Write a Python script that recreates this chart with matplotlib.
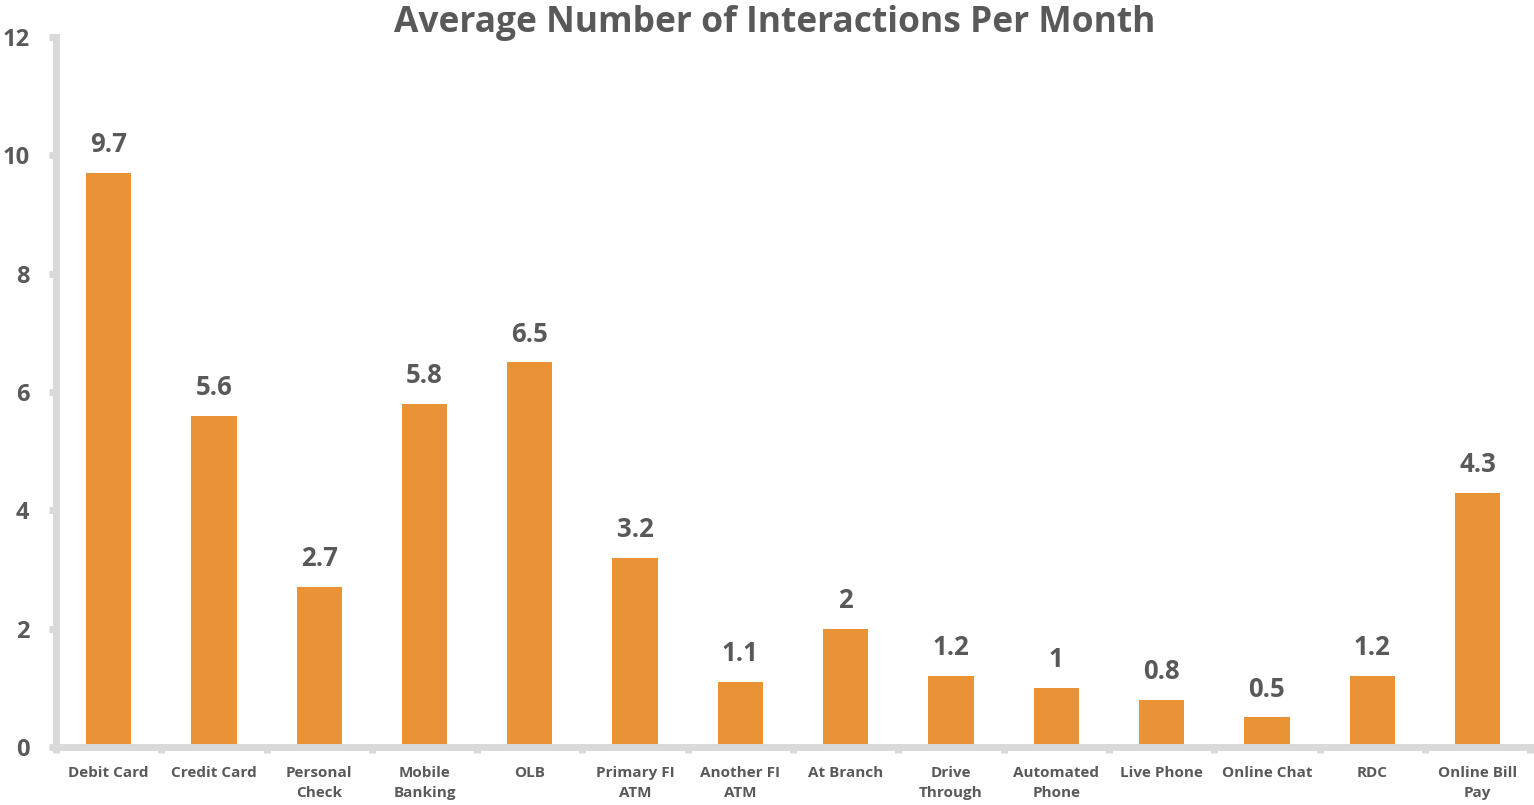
import matplotlib.pyplot as plt
import numpy as np

# data
categories = ['Debit Card', 'Credit Card', 'Personal\nCheck', 'Mobile\nBanking', 'OLB',
              'Primary FI\nATM', 'Another FI\nATM', 'At Branch', 'Drive\nThrough',
              'Automated\nPhone', 'Live Phone', 'Online Chat', 'RDC', 'Online Bill\nPay']
values = [9.7, 5.6, 2.7, 5.8, 6.5, 3.2, 1.1, 2, 1.2, 1, 0.8, 0.5, 1.2, 4.3]
value_labels = ['9.7', '5.6', '2.7', '5.8', '6.5', '3.2', '1.1', '2', '1.2', '1', '0.8', '0.5', '1.2', '4.3']
yticks = [0, 2, 4, 6, 8, 10, 12]

plt.rcParams['font.family'] = ['Open Sans', 'DejaVu Sans']
txt_color = '#595959'
bar_color = '#EA9236'
axis_color = '#D9D9D9'

fig = plt.figure(figsize=(15.34, 8.05), dpi=100)
ax = fig.add_axes([0.0365, 0.072, 0.961, 0.882])

x = np.arange(len(categories))
ax.bar(x, values, width=0.43, color=bar_color, zorder=2)

for xi, v, lab in zip(x, values, value_labels):
    ax.text(xi, v + 0.25, lab, ha='center', va='bottom', fontsize=18.5,
            fontweight='bold', color=txt_color)

ax.set_xlim(-0.5, len(categories) - 0.5)
ax.set_ylim(0, 12)
ax.set_yticks(yticks)
ax.set_yticklabels([str(t) for t in yticks], fontsize=17, fontweight='bold', color=txt_color)
ax.set_xticks(x)
ax.set_xticklabels(categories, fontsize=11, fontweight='bold', color=txt_color, linespacing=1.5)
ax.tick_params(axis='x', length=0, pad=14)
ax.tick_params(axis='y', length=5, width=5, color=axis_color, pad=14)

# small tick marks between categories on x axis
ax.set_xticks(np.arange(-0.5, len(categories)), minor=True)
ax.tick_params(axis='x', which='minor', length=4, width=5, color=axis_color)

for s in ['top', 'right']:
    ax.spines[s].set_visible(False)
for s in ['left', 'bottom']:
    ax.spines[s].set_color(axis_color)
    ax.spines[s].set_linewidth(5)

fig.text(0.505, 0.971, 'Average Number of Interactions Per Month', ha='center', va='center',
         fontsize=25.5, fontweight='bold', color=txt_color)

fig.savefig('out.png', dpi=100)
